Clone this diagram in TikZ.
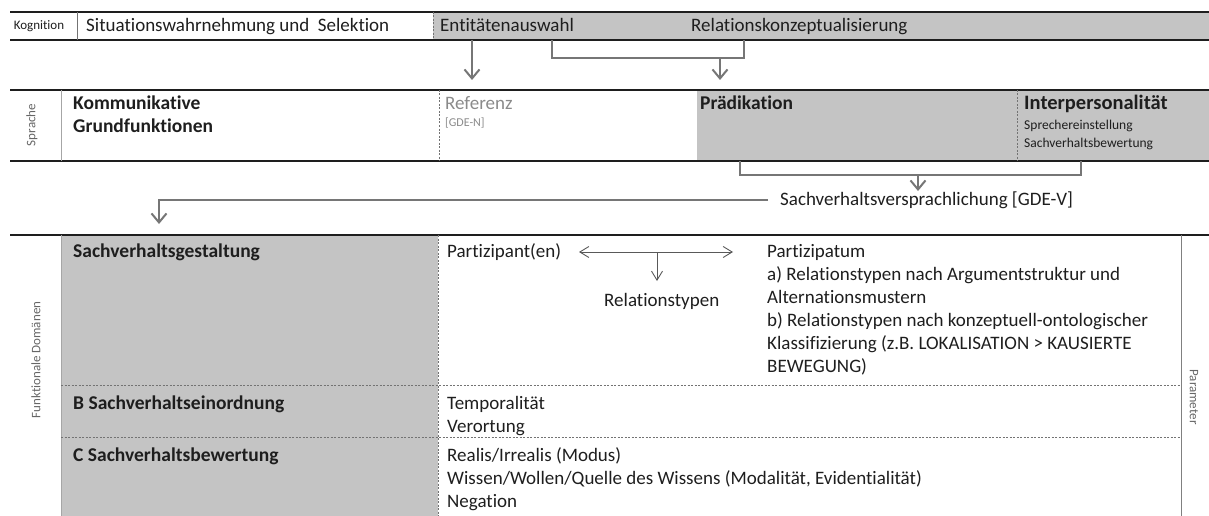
\documentclass[tikz,border=0pt]{standalone}
\usepackage{fontspec}
\setmainfont{Carlito}[Ligatures=NoCommon]
\usetikzlibrary{arrows.meta}
\definecolor{cellgray}{HTML}{C4C4C4}
\definecolor{arrgray}{HTML}{767676}
\definecolor{ink}{HTML}{1E1E1E}
\definecolor{refgray}{HTML}{8A8A8A}
\begin{document}
\begin{tikzpicture}[x=1pt,y=-1pt,
  lbl/.style={font=\fontsize{19}{23}\selectfont, text=ink, inner sep=0pt, anchor=base west},
  lblb/.style={lbl, font=\fontsize{19.5}{23}\selectfont\bfseries},
  smalltxt/.style={font=\fontsize{13.5}{16}\selectfont, text=ink, inner sep=0pt, anchor=base west},
  sidetxt/.style={font=\fontsize{13}{15}\selectfont, text=black!60, inner sep=0pt},
  hrule/.style={line width=2.4pt, draw=ink},
  vsolid/.style={line width=0.8pt, draw=black!35},
  vdash/.style={line width=0.7pt, draw=black!55, dash pattern=on 2pt off 1.5pt},
  flow/.style={draw=arrgray, line width=2pt, -{Straight Barb[length=9pt,width=15pt,line width=2pt]}},
  brk/.style={draw=arrgray, line width=2pt},
  slim/.style={draw=black!65, line width=0.9pt},
  barb/.tip={Straight Barb[length=9pt,width=11pt,line width=0.9pt]},
]
\useasboundingbox (0,0) rectangle (1209,516);

% ---------- Row 1: Kognition ----------
\fill[cellgray] (433,12) rectangle (1209,40);
\draw[hrule] (10,12) -- (1209,12);
\draw[hrule] (10,40) -- (1209,40);
\draw[vsolid,draw=black!55] (77,12) -- (77,40);
\draw[vdash] (433,12) -- (433,40);
\node[sidetxt, text=ink, anchor=base] (kog) at (39,30) {Kognition};
\node[lbl] (sit) at (86,32) {Situationswahrnehmung und\ \ Selektion};
\node[lbl] (ent) at (440,32) {Entitätenauswahl};
\node[lbl] (rel) at (691,32) {Relationskonzeptualisierung};

% connectors row 1 -> row 2
\coordinate (a1s) at (472,40);
\coordinate (a1e) at (472,80);
\draw[flow] (a1s) -- (a1e);
\coordinate (k1) at (552,40);
\coordinate (k2) at (744,40);
\draw[brk] (k1) -- ++(0,18) -| (k2);
\coordinate (a2s) at (720,58);
\coordinate (a2e) at (720,80);
\draw[flow] (a2s) -- (a2e);

% ---------- Row 2: Sprache ----------
\fill[cellgray] (697,90) rectangle (1209,161);
\draw[hrule] (10,90) -- (1209,90);
\draw[hrule] (10,161) -- (1209,161);
\draw[vsolid] (61,90) -- (61,161);
\draw[vdash] (439,90) -- (439,161);
\draw[vdash] (1017,90) -- (1017,161);
\node[sidetxt, rotate=90] (spr) at (32,125) {Sprache};
\node[lblb] (kom1) at (73,110) {Kommunikative};
\node[lblb] (kom2) at (73,132) {Grundfunktionen};
\node[lbl, text=refgray] (ref) at (445,110) {Referenz};
\node[smalltxt, font=\fontsize{12}{14}\selectfont, text=refgray] (gden) at (445,127) {[GDE-N]};
\node[lblb] (pra) at (700,110) {Prädikation};
\node[lblb, font=\fontsize{20.5}{23}\selectfont\bfseries] (inter) at (1024,110) {Interpersonalität};
\node[smalltxt] (spe) at (1024,129) {Sprechereinstellung};
\node[smalltxt] (svb) at (1024,147) {Sachverhaltsbewertung};

% connectors row 2 -> row 3
\coordinate (k3) at (740,161);
\coordinate (k4) at (1081,161);
\draw[brk] (k3) -- ++(0,14) -| (k4);
\coordinate (a3s) at (918,175);
\coordinate (a3e) at (918,191);
\node[lbl] (gdev) at (780,205) {Sachverhaltsversprachlichung [GDE-V]};
\draw[flow] (a3s) -- (a3e);
\coordinate (a4s) at (768,200);
\coordinate (a4e) at (159,224);
\draw[flow] (a4s) -| (a4e);

% ---------- Row 3: Funktionale Domänen ----------
\fill[cellgray] (61,235) rectangle (438,516);
\draw[hrule] (10,235) -- (1209,235);
\draw[vsolid] (61,235) -- (61,516);
\draw[vsolid,draw=black!50] (1181,235) -- (1181,516);
\draw[vdash] (438,235) -- (438,516);
\draw[vdash] (61,385) -- (1181,385);
\draw[vdash] (61,437) -- (1181,437);
\node[sidetxt, rotate=90] (fd) at (36,360) {Funktionale Domänen};
\node[sidetxt, rotate=-90] (par) at (1194,397) {Parameter};

\node[lblb] (sg) at (73,257) {Sachverhaltsgestaltung};
\node[lbl] (pen) at (447,257) {Partizipant(en)};
\node[lbl] (ptum) at (767,257) {Partizipatum};
\node[lbl] (rta) at (767,280) {a) Relationstypen nach Argumentstruktur und};
\node[lbl] (rta2) at (767,303) {Alternationsmustern};
\node[lbl] (rtb) at (767,326) {b) Relationstypen nach konzeptuell-ontologischer};
\node[lbl] (rtb2) at (767,349) {Klassifizierung (z.B. LOKALISATION > KAUSIERTE};
\node[lbl] (rtb3) at (767,372) {BEWEGUNG)};
\node[lbl] (rty) at (604,306) {Relationstypen};
\coordinate (dl) at (579,252);
\coordinate (dr) at (733,252);
\draw[slim, {barb}-{barb}] (dl) -- (dr);
\coordinate (dm) at (657,252);
\coordinate (dmb) at (657,281);
\draw[slim, -{barb}] (dm) -- (dmb);

\node[lblb] (sb) at (73,409) {B Sachverhaltseinordnung};
\node[lbl] (tem) at (447,409) {Temporalität};
\node[lbl] (ver) at (447,432) {Verortung};

\node[lblb] (sc) at (73,461) {C Sachverhaltsbewertung};
\node[lbl] (rea) at (447,461) {Realis/Irrealis (Modus)};
\node[lbl] (wis) at (447,484) {Wissen/Wollen/Quelle des Wissens (Modalität, Evidentialität)};
\node[lbl] (neg) at (447,507) {Negation};
\end{tikzpicture}
\end{document}
